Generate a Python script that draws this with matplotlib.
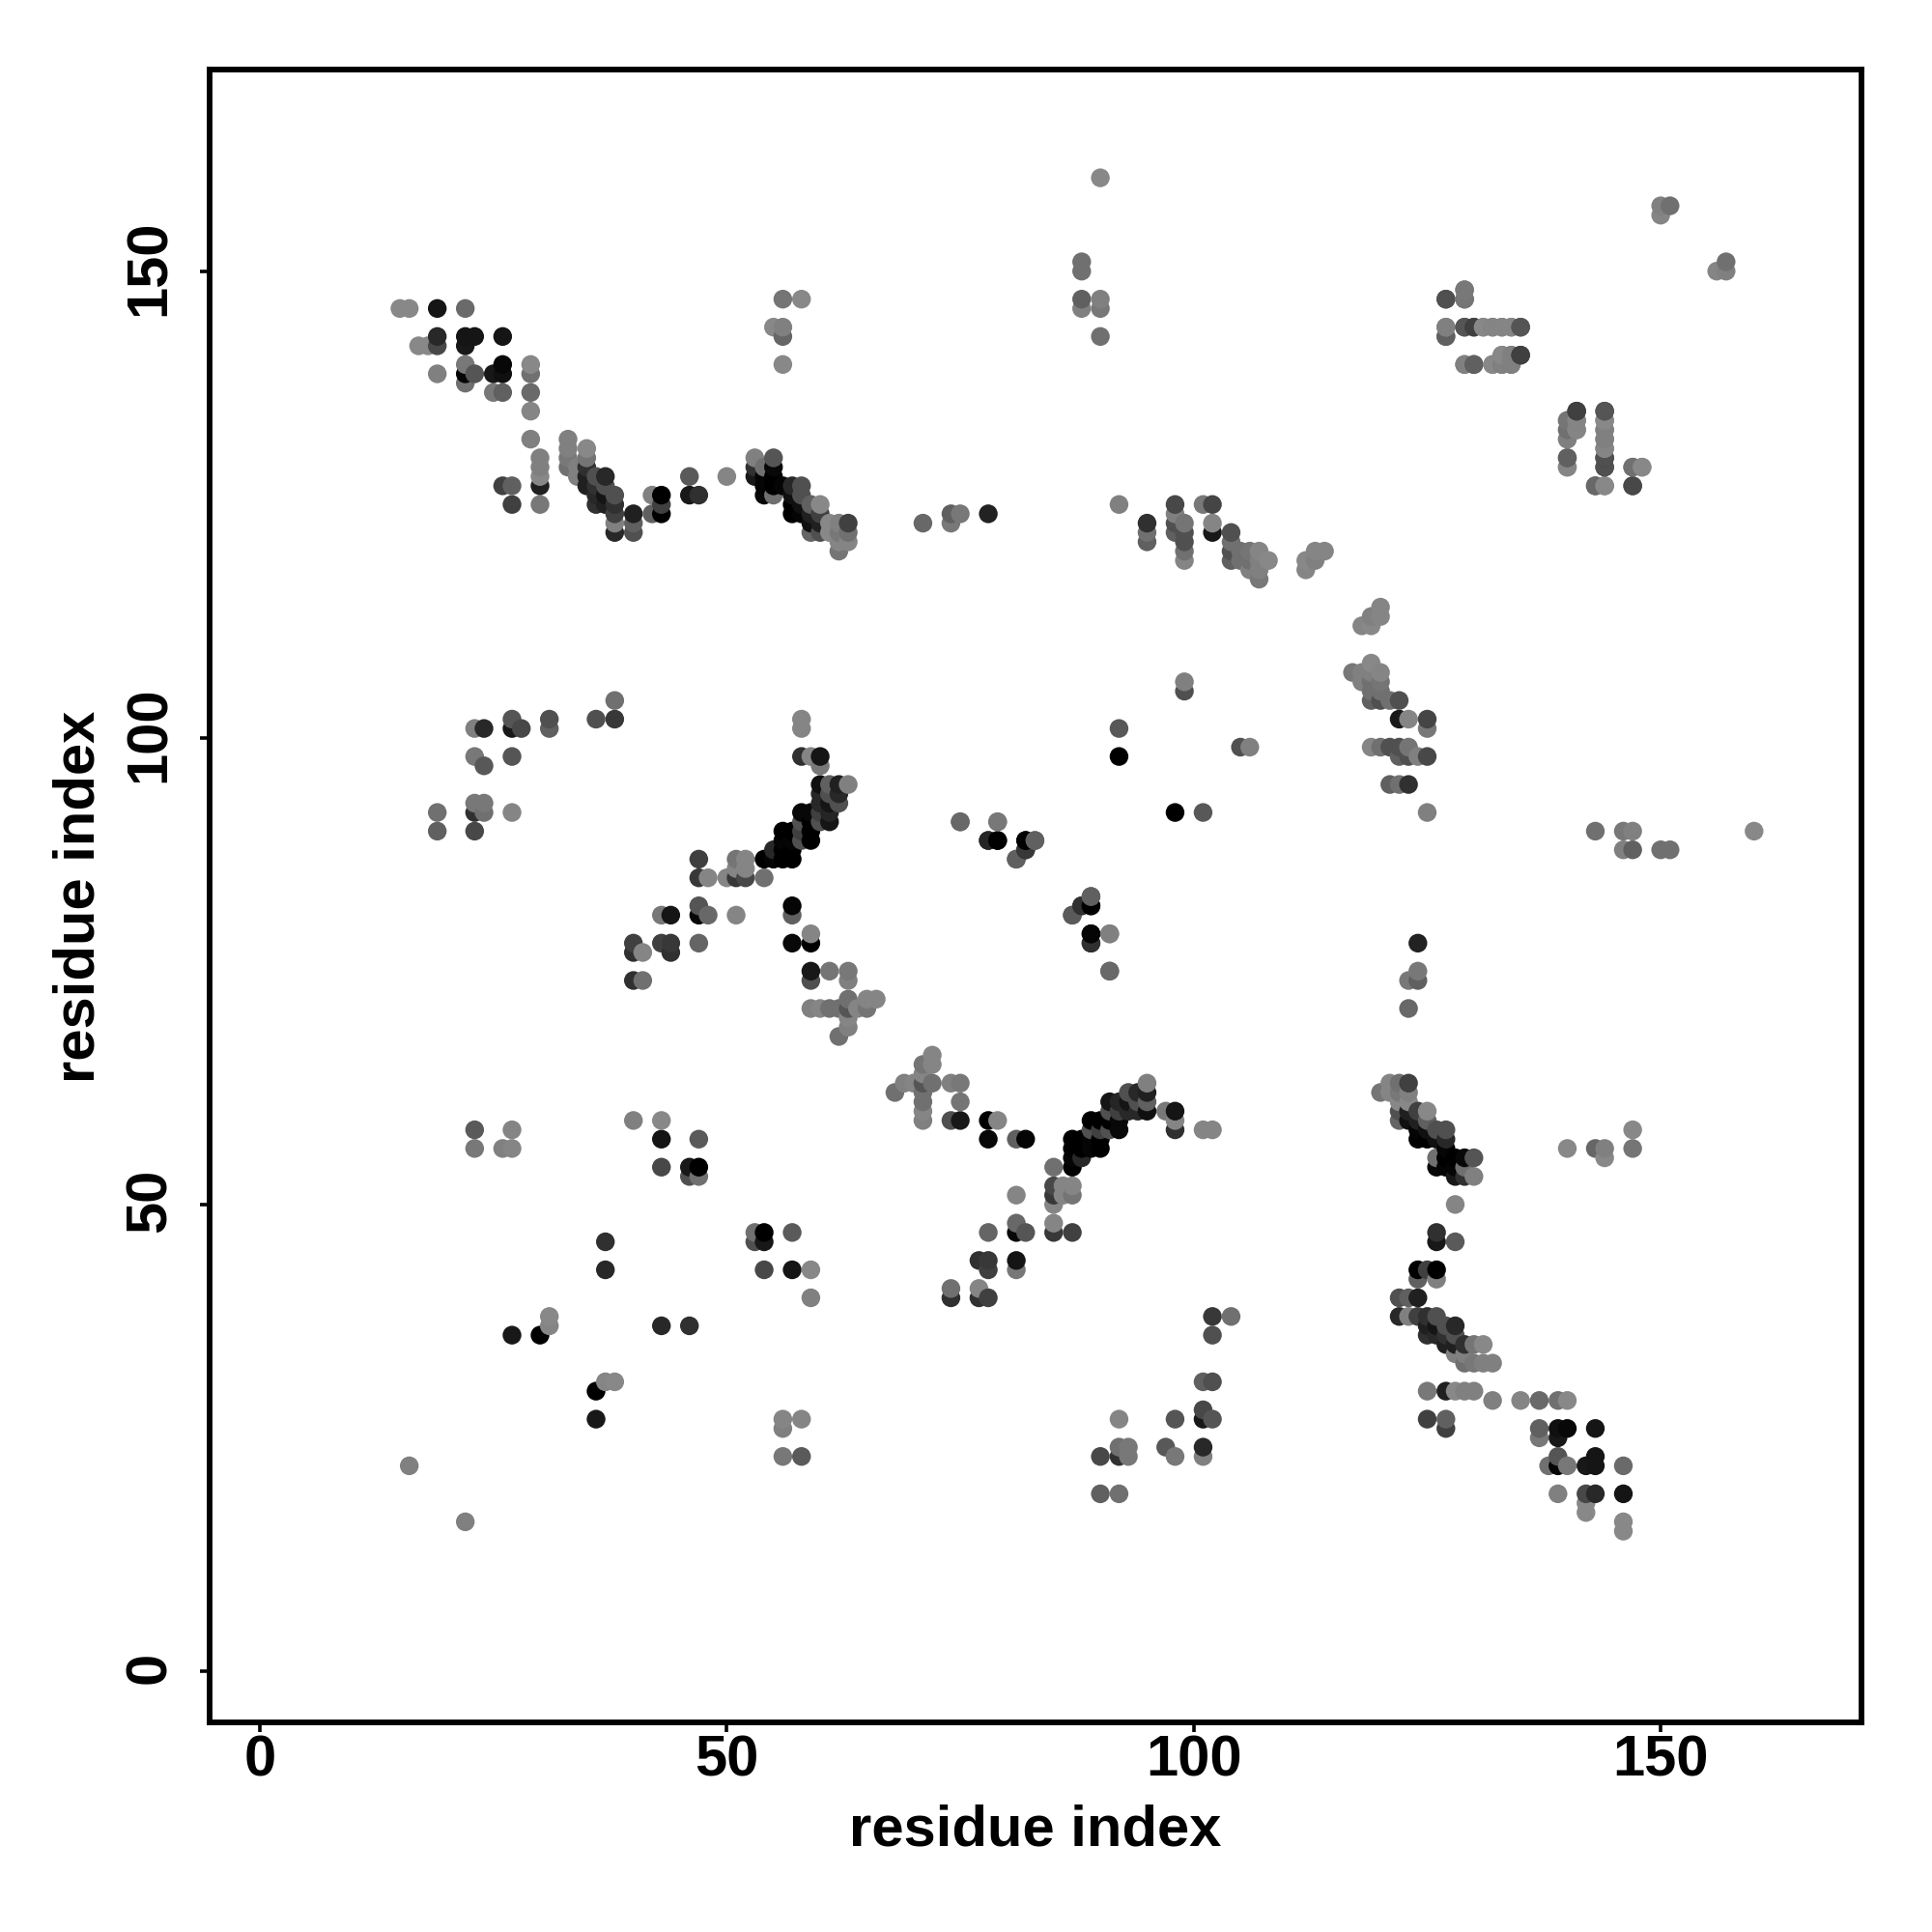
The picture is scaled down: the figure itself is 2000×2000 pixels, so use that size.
import numpy as np
import matplotlib
matplotlib.use("Agg")
import matplotlib.pyplot as plt
from matplotlib.transforms import ScaledTranslation

plt.rcParams["font.family"] = ["Liberation Sans", "DejaVu Sans"]

# contacts with j > i, one line per residue i. The map is symmetric, mirrored below.
# long range block, top left
top_i = [15, 16,
         19, 19, 19, 19,
         17, 18,
         22, 22, 22, 22, 22, 22,
         23, 23,
         25, 25,
         26, 26, 26, 26, 26,
         27, 27,
         29, 29, 29, 29, 29,
         30, 30, 30, 30, 30,
         33, 33, 33, 33,
         34, 34,
         35, 35, 35, 35, 35,
         36, 36, 36, 36,
         37, 37, 37, 37,
         38, 38, 38, 38, 38,
         40, 40, 40,
         42, 42,
         43, 43, 43,
         46, 46,
         47,
         50,
         53, 53, 53,
         54, 54, 54, 54,
         55, 55, 55, 55, 55, 55,
         56, 56, 56, 56, 56,
         57, 57, 57, 57,
         58, 58, 58, 58, 58,
         59, 59, 59, 59,
         60, 60, 60, 60,
         61, 61,
         62, 62, 62, 62,
         63, 63, 63]
top_j = [146, 146,
         146, 143, 142, 139,
         142, 142,
         146, 143, 142, 140, 139, 138,
         143, 139,
         139, 137,
         143, 140, 139, 137, 127,
         127, 125,
         140, 139, 137, 135, 132,
         130, 129, 128, 127, 125,
         132, 131, 130, 129,
         129, 128,
         131, 130, 129, 128, 127,
         128, 127, 126, 125,
         128, 127, 126, 125,
         126, 125, 124, 123, 122,
         124, 123, 122,
         126, 124,
         126, 125, 124,
         128, 126,
         126,
         128,
         130, 129, 128,
         129, 128, 127, 126,
         144, 130, 129, 128, 127, 126,
         147, 144, 143, 140, 127,
         127, 126, 125, 124,
         147, 127, 126, 125, 124,
         125, 124, 123, 122,
         125, 124, 123, 122,
         123, 122,
         123, 122, 121, 120,
         123, 122, 121]
top_shade = [0x88, 0x88,
             0x15, 0x28, 0x48, 0x80,
             0x88, 0x88,
             0x6a, 0x15, 0x18, 0x78, 0x05, 0x70,
             0x15, 0x55,
             0x18, 0x78,
             0x15, 0x08, 0x10, 0x60, 0x40,
             0x60, 0x40,
             0x88, 0x70, 0x6a, 0x85, 0x80,
             0x80, 0x80, 0x88, 0x20, 0x78,
             0x80, 0x80, 0x78, 0x70,
             0x80, 0x80,
             0x88, 0x75, 0x30, 0x20, 0x20,
             0x50, 0x30, 0x28, 0x30,
             0x28, 0x50, 0x15, 0x20,
             0x50, 0x30, 0x40, 0x80, 0x28,
             0x20, 0x60, 0x50,
             0x80, 0x60,
             0x00, 0x40, 0x00,
             0x5a, 0x18,
             0x30,
             0x85,
             0x80, 0x30, 0x18,
             0x70, 0x05, 0x05, 0x08,
             0x88, 0x55, 0x08, 0x00, 0x00, 0x70,
             0x75, 0x80, 0x66, 0x88, 0x05,
             0x28, 0x10, 0x00, 0x00,
             0x88, 0x50, 0x50, 0x10, 0x05,
             0x60, 0x20, 0x10, 0x65,
             0x88, 0x40, 0x20, 0x50,
             0x88, 0x88,
             0x80, 0x78, 0x85, 0x75,
             0x40, 0x70, 0x85]

# top right block
right_i = [71,
           74, 74,
           75,
           78,
           88, 88, 88, 88,
           90, 90, 90, 90,
           92,
           95, 95, 95,
           98, 98, 98, 98,
           99, 99, 99, 99, 99,
           101,
           102, 102, 102,
           104, 104, 104, 104,
           105, 105,
           106, 106, 106,
           107, 107, 107, 107,
           108,
           112, 112,
           113, 113,
           114,
           127, 127, 127,
           129, 129, 129, 129,
           130, 130,
           131,
           132, 132,
           133, 133, 133,
           134, 134, 134,
           135, 135,
           140, 140, 140, 140, 140,
           141, 141, 141,
           143,
           144, 144, 144, 144, 144, 144, 144, 144,
           147, 147,
           148,
           150, 150,
           151]
right_j = [123,
           124, 123,
           124,
           124,
           151, 150, 147, 146,
           160, 147, 146, 143,
           125,
           123, 122, 121,
           125, 124, 123, 122,
           123, 122, 121, 120, 119,
           125,
           125, 123, 122,
           122, 121, 120, 119,
           120, 119,
           120, 119, 118,
           120, 119, 118, 117,
           119,
           119, 118,
           120, 119,
           120,
           147, 144, 143,
           148, 147, 144, 140,
           144, 140,
           144,
           144, 140,
           144, 141, 140,
           144, 141, 140,
           144, 141,
           134, 133, 132, 130, 129,
           135, 134, 133,
           127,
           135, 134, 133, 132, 131, 130, 129, 127,
           129, 127,
           129,
           157, 156,
           157]
right_shade = [0x68,
               0x60, 0x78,
               0x78,
               0x22,
               0x70, 0x70, 0x60, 0x80,
               0x88, 0x80, 0x78, 0x70,
               0x80,
               0x30, 0x70, 0x60,
               0x48, 0x80, 0x50, 0x60,
               0x75, 0x50, 0x50, 0x70, 0x85,
               0x78,
               0x45, 0x85, 0x18,
               0x50, 0x70, 0x50, 0x60,
               0x70, 0x70,
               0x75, 0x70, 0x80,
               0x85, 0x80, 0x80, 0x78,
               0x88,
               0x88, 0x85,
               0x85, 0x80,
               0x85,
               0x48, 0x88, 0x68,
               0x88, 0x70, 0x50, 0x85,
               0x50, 0x60,
               0x85,
               0x80, 0x80,
               0x80, 0x85, 0x70,
               0x88, 0x85, 0x75,
               0x55, 0x40,
               0x80, 0x80, 0x88, 0x60, 0x80,
               0x40, 0x80, 0x88,
               0x60,
               0x55, 0x85, 0x85, 0x85, 0x88, 0x40, 0x55, 0x80,
               0x75, 0x50,
               0x78,
               0x80, 0x85,
               0x70]

# middle block, x up to 66 and y up to 104
mid_i = [19, 19,
         23, 23, 23, 23, 23,
         24, 24, 24, 24,
         27, 27, 27, 27,
         28,
         31, 31,
         36,
         38, 38,
         40, 40, 40,
         41, 41,
         43, 43,
         44, 44, 44,
         47, 47, 47, 47, 47,
         48, 48,
         50,
         51, 51, 51, 51,
         52, 52, 52,
         54, 54,
         55, 55,
         56, 56, 56, 56,
         57, 57, 57, 57, 57, 57, 57,
         58, 58, 58, 58, 58, 58, 58,
         59, 59, 59, 59, 59, 59, 59, 59, 59, 59,
         60, 60, 60, 60, 60, 60, 60, 60,
         61, 61, 61, 61, 61, 61, 61,
         62, 62, 62, 62, 62,
         63, 63, 63, 63, 63, 63, 63,
         64,
         65, 65,
         66]
mid_j = [92, 90,
         101, 98, 93, 92, 90,
         101, 97, 93, 92,
         102, 101, 98, 92,
         101,
         102, 101,
         102,
         104, 102,
         78, 77, 74,
         77, 74,
         81, 78,
         81, 78, 77,
         87, 85, 82, 81, 78,
         85, 81,
         85,
         87, 86, 85, 81,
         87, 86, 85,
         87, 85,
         88, 87,
         90, 89, 88, 87,
         90, 89, 88, 87, 82, 81, 78,
         102, 101, 98, 92, 91, 90, 89,
         98, 92, 91, 90, 89, 79, 78, 75, 74, 71,
         98, 97, 95, 94, 93, 92, 91, 71,
         95, 94, 93, 92, 91, 75, 71,
         95, 94, 93, 71, 68,
         95, 75, 74, 72, 71, 70, 69,
         71,
         72, 71,
         72]
mid_shade = [0x70, 0x60,
             0x80, 0x78, 0x78, 0x30, 0x48,
             0x28, 0x58, 0x78, 0x70,
             0x55, 0x18, 0x55, 0x85,
             0x48,
             0x50, 0x60,
             0x50,
             0x70, 0x38,
             0x40, 0x30, 0x30,
             0x85, 0x70,
             0x78, 0x40,
             0x15, 0x38, 0x30,
             0x40, 0x38, 0x55, 0x08, 0x65,
             0x85, 0x68,
             0x85,
             0x75, 0x85, 0x38, 0x85,
             0x85, 0x85, 0x48,
             0x00, 0x70,
             0x28, 0x05,
             0x00, 0x05, 0x00, 0x00,
             0x00, 0x05, 0x00, 0x00, 0x05, 0x60, 0x08,
             0x85, 0x85, 0x30, 0x08, 0x50, 0x40, 0x50,
             0x85, 0x08, 0x00, 0x00, 0x00, 0x85, 0x00, 0x18, 0x50, 0x80,
             0x15, 0x78, 0x10, 0x28, 0x28, 0x40, 0x50, 0x85,
             0x60, 0x50, 0x15, 0x25, 0x15, 0x75, 0x70,
             0x20, 0x28, 0x50, 0x70, 0x70,
             0x80, 0x78, 0x80, 0x70, 0x55, 0x85, 0x80,
             0x85,
             0x85, 0x75,
             0x85]

# scattered contacts around the centre
centre_i = [75, 78, 79, 79, 81, 82, 82, 83, 87, 88, 89, 89, 89, 89, 91, 91, 92, 92, 99, 99]
centre_j = [91, 89, 91, 89, 87, 89, 88, 89, 81, 82, 83, 82, 79, 78, 79, 75, 101, 98, 106, 105]
centre_shade = [0x68, 0x30, 0x80, 0x05, 0x5a, 0x00, 0x30, 0x60, 0x60, 0x38,
                0x60, 0x00, 0x00, 0x25, 0x78, 0x68, 0x58, 0x00, 0x80, 0x50]

# bottom left block
low_i = [16, 23, 23, 26, 27, 27, 27, 30, 31, 31, 37, 37, 40, 43, 43, 43, 46, 46, 47, 47, 47]
low_j = [22, 58, 56, 56, 58, 56, 36, 36, 38, 37, 46, 43, 59, 59, 57, 54, 54, 53, 57, 54, 53]
low_shade = [0x80, 0x5a, 0x78, 0x80, 0x85, 0x85, 0x18, 0x00, 0x88, 0x85, 0x30,
             0x28, 0x80, 0x88, 0x15, 0x48, 0x18, 0x50, 0x5a, 0x00, 0x70]

ticks = [0, 50, 100, 150]

res_i = np.array(top_i + right_i + mid_i + centre_i + low_i)
res_j = np.array(top_j + right_j + mid_j + centre_j + low_j)
shade = np.array(top_shade + right_shade + mid_shade + centre_shade + low_shade)

# mirror and sort, later residues sit on top like in the original
x = np.concatenate([res_i, res_j])
y = np.concatenate([res_j, res_i])
grey = np.concatenate([shade, shade]) / 255
order = np.lexsort((y, x))
colors = np.column_stack([grey[order]] * 3)

fig = plt.figure(figsize=(20, 20), dpi=100)
ax = fig.add_axes([216.5 / 2000, 1 - 1783 / 2000, (1927 - 216.5) / 2000, (1783 - 72) / 2000])

ax.scatter(x[order], y[order], s=195, c=colors, linewidths=0)

ax.set_xlim(-5.43, 171.5)
ax.set_ylim(-5.49, 171.6)
ax.set_xticks(ticks)
ax.set_yticks(ticks)
ax.tick_params(axis='both', length=7, width=2.6, labelsize=43)
ax.tick_params(axis='x', pad=2)
ax.tick_params(axis='y', pad=17)
for lab in ax.get_xticklabels() + ax.get_yticklabels():
    lab.set_fontweight('bold')
# rotated labels sit a little low, nudge them up onto the ticks
nudge = ScaledTranslation(0, 2.7 / 72, fig.dpi_scale_trans)
for lab in ax.get_yticklabels():
    lab.set_rotation(90)
    lab.set_va('center')
    lab.set_transform(lab.get_transform() + nudge)
for side in ax.spines.values():
    side.set_linewidth(4.2)

ax.set_xlabel("residue index", fontsize=43, fontweight='bold', va='center')
ax.set_ylabel("residue index", fontsize=43, fontweight='bold', va='center')
ax.xaxis.set_label_coords(0.5, -0.0652)
ax.yaxis.set_label_coords(-0.0788, 0.4995)

fig.savefig("out.png", dpi=100, facecolor='white')
